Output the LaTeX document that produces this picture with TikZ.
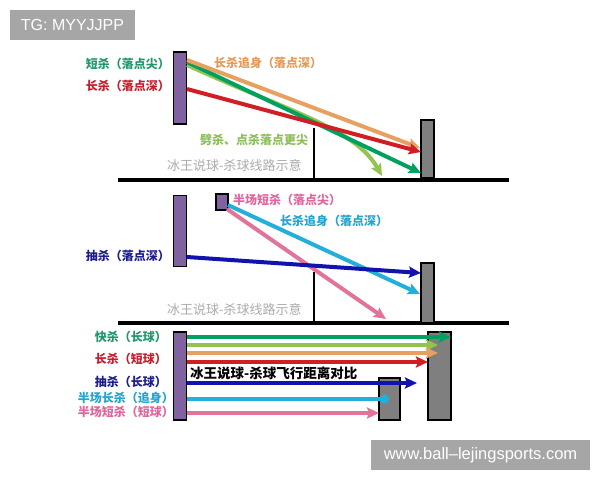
\documentclass[tikz,border=0pt]{standalone}
\usepackage{fontspec}
\setmainfont{Liberation Sans}
\newfontfamily\cjk{Noto Sans CJK SC}
\usetikzlibrary{arrows.meta}
\definecolor{cpurple}{HTML}{8062A0}
\definecolor{cgray}{HTML}{7F7F7F}
\definecolor{cdgreen}{HTML}{00A060}
\definecolor{clgreen}{HTML}{92C452}
\definecolor{corange}{HTML}{E8A060}
\definecolor{cred}{HTML}{D01E24}
\definecolor{cblue}{HTML}{1212B0}
\definecolor{ccyan}{HTML}{22B0DA}
\definecolor{cpink}{HTML}{E2749C}
\definecolor{tgreen}{HTML}{20986C}
\definecolor{tred}{HTML}{C61E2C}
\definecolor{torange}{HTML}{E49A56}
\definecolor{tlgreen}{HTML}{8CBE58}
\definecolor{tnavy}{HTML}{1C1C8C}
\definecolor{tpink}{HTML}{E2649C}
\definecolor{tcyan}{HTML}{22A4CE}
\definecolor{wm}{HTML}{ABABAB}
\definecolor{boxgray}{HTML}{A6A6A6}
\tikzset{
  racket/.style={draw=black, line width=1.2pt, fill=cpurple, inner sep=0pt, minimum width=13pt},
  oppo/.style={draw=black, line width=1.2pt, fill=cgray, inner sep=0pt},
  floor/.style={line width=3.2pt, black},
  netline/.style={line width=2.6pt, black},
  shot/.style={line width=4pt, -{Stealth[length=12pt,width=11pt,inset=2pt]}},
  lbl/.style={font=\cjk\bfseries\fontsize{12}{13}\selectfont, inner sep=0pt},
  wmark/.style={font=\cjk\itshape\fontsize{13}{14}\selectfont, text=wm, inner sep=0pt},
  badge/.style={fill=boxgray, text=white, inner sep=0pt, font=\fontsize{16}{18}\selectfont}
}
\begin{document}
\begin{tikzpicture}[x=1pt,y=-1pt]
\useasboundingbox (0,0) rectangle (600,480);
\fill[white] (0,0) rectangle (600,480);

% badges
\node[badge, minimum width=125pt, minimum height=30pt] (tg) at (72.5,25) {TG: MYYJJPP};
\node[badge, minimum width=219pt, minimum height=30pt, font=\fontsize{16.5}{18}\selectfont] (web) at (480.5,455) {www.ball–lejingsports.com};

% ---------------- panel 1 ----------------
\coordinate (f1a) at (118,180); \coordinate (f1b) at (509,180);
\coordinate (n1t) at (314,128); \coordinate (n1b) at (314,180);
\draw[floor] (f1a) -- (f1b);
\draw[netline] (n1t) -- (n1b);
\node[oppo, minimum width=13pt, minimum height=58pt] (o1) at (427.5,149) {};
\node[racket, minimum height=72pt] (r1) at (180,88) {};
\node[wmark, anchor=west] (w1) at (167,166) {冰王说球-杀球线路示意};

\coordinate (s1a) at (187,65); \coordinate (e1a) at (382,176);
\coordinate (s1b) at (187,62); \coordinate (e1b) at (421,173);
\coordinate (s1c) at (187,60); \coordinate (e1c) at (420,148);
\coordinate (s1d) at (187,89); \coordinate (e1d) at (421,152);
\draw[shot, clgreen] (s1a) .. controls (285,110) and (355,128) .. (e1a);
\draw[shot, cdgreen] (s1b) -- (e1b);
\draw[shot, corange] (s1c) -- (e1c);
\draw[shot, cred] (s1d) -- (e1d);

\node[lbl, text=tgreen, anchor=east] (l1) at (170,64) {短杀（落点尖）};
\node[lbl, text=tred, anchor=east] (l2) at (170,86) {长杀（落点深）};
\node[lbl, text=torange, anchor=west] (l3) at (214,63) {长杀追身（落点深）};
\node[lbl, text=tlgreen, anchor=west] (l4) at (200,140) {劈杀、点杀落点更尖};

% ---------------- panel 2 ----------------
\coordinate (f2a) at (118,323); \coordinate (f2b) at (509,323);
\coordinate (n2t) at (314,272); \coordinate (n2b) at (314,323);
\draw[floor] (f2a) -- (f2b);
\draw[netline] (n2t) -- (n2b);
\node[oppo, minimum width=13pt, minimum height=60pt] (o2) at (427.5,293) {};
\node[racket, minimum height=71pt] (r2) at (180,231) {};
\node[racket, minimum width=12pt, minimum height=16pt] (r3) at (222,202) {};
\node[wmark, anchor=west] (w2) at (167,310) {冰王说球-杀球线路示意};

\coordinate (s2p) at (227,209); \coordinate (e2p) at (386,319);
\coordinate (s2c) at (228,205); \coordinate (e2c) at (420,294);
\coordinate (s2b) at (187,257); \coordinate (e2b) at (421,273);
\draw[shot, cpink] (s2p) -- (e2p);
\draw[shot, ccyan] (s2c) -- (e2c);
\draw[shot, cblue] (s2b) -- (e2b);

\node[lbl, text=tpink, anchor=west] (l5) at (233,200) {半场短杀（落点尖）};
\node[lbl, text=tcyan, anchor=west] (l6) at (280,221) {长杀追身（落点深）};
\node[lbl, text=tnavy, anchor=east] (l7) at (170,256) {抽杀（落点深）};

% ---------------- panel 3 ----------------
\node[oppo, minimum width=23pt, minimum height=88pt] (o3) at (439.5,376) {};
\node[oppo, minimum width=21pt, minimum height=42pt] (o4) at (389.5,399) {};
\node[racket, minimum height=88pt] (r4) at (180,376) {};

\coordinate (s3a) at (187,337); \coordinate (e3a) at (451,337);
\coordinate (s3b) at (187,345); \coordinate (e3b) at (438,345);
\coordinate (s3c) at (187,353); \coordinate (e3c) at (438,353);
\coordinate (s3d) at (187,362); \coordinate (e3d) at (428,362);
\coordinate (s3e) at (187,383); \coordinate (e3e) at (417,383);
\coordinate (s3f) at (187,399); \coordinate (e3f) at (389,399);
\coordinate (s3g) at (187,413); \coordinate (e3g) at (379,413);
\draw[shot, cdgreen] (s3a) -- (e3a);
\draw[shot, clgreen] (s3b) -- (e3b);
\draw[shot, corange] (s3c) -- (e3c);
\draw[shot, cred] (s3d) -- (e3d);
\draw[shot, cblue] (s3e) -- (e3e);
\draw[line width=4pt, ccyan, -{Circle[length=9pt]}] (s3f) -- (e3f);
\draw[shot, cpink] (s3g) -- (e3g);

\node[lbl, text=tgreen, anchor=east] (m1) at (167,337) {快杀（长球）};
\node[lbl, text=tred, anchor=east] (m2) at (167,359) {长杀（短球）};
\node[lbl, text=tnavy, anchor=east] (m3) at (167,382) {抽杀（长球）};
\node[lbl, text=tcyan, anchor=east] (m4) at (174,398) {半场长杀（追身）};
\node[lbl, text=tpink, anchor=east] (m5) at (174,412) {半场短杀（短球）};
\node[lbl, font=\cjk\bfseries\fontsize{13.5}{14}\selectfont, anchor=west] (m6) at (190,373) {冰王说球-杀球飞行距离对比};
\end{tikzpicture}
\end{document}
